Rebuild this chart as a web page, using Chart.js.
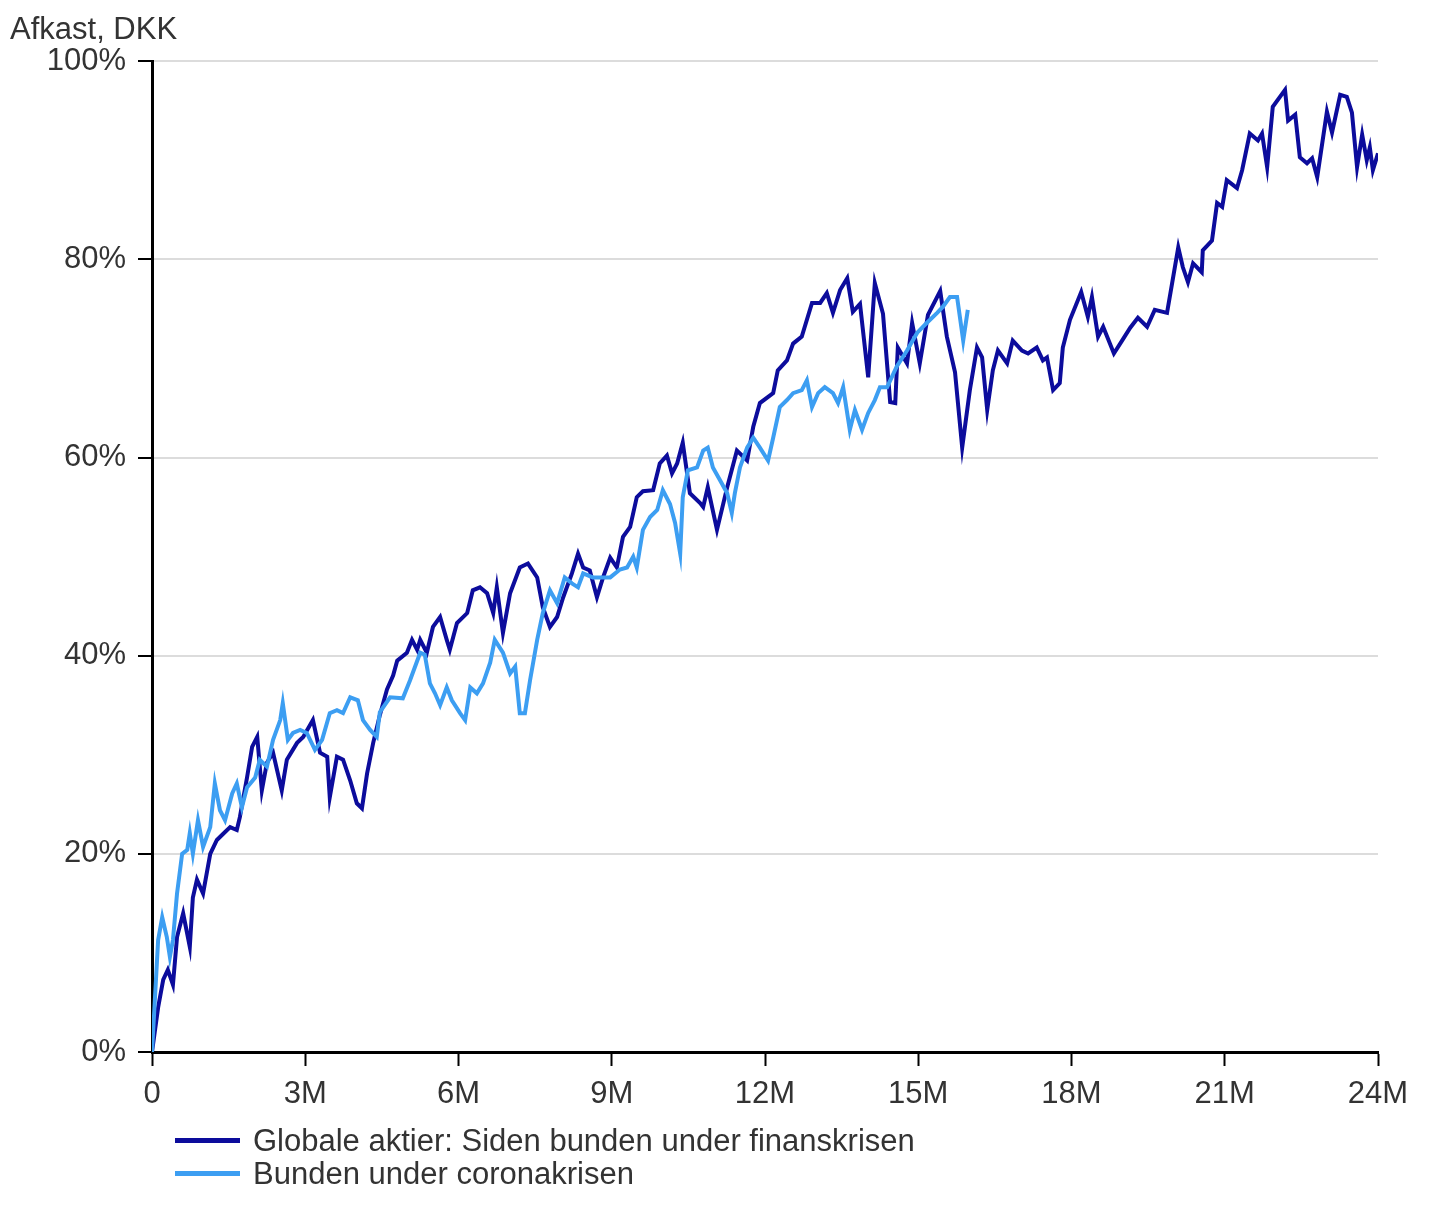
<!DOCTYPE html>
<html>
<head>
<meta charset="utf-8">
<script src="https://cdn.jsdelivr.net/npm/chart.js@4/dist/chart.umd.min.js"></script>
<style>
  html, body { margin: 0; padding: 0; background: #fff; }
  #wrap { position: relative; width: 1440px; height: 1223px; }
  #legend { position: absolute; left: 175px; top: 1124px; font-family: "Liberation Sans", Arial, sans-serif; font-size: 31px; color: #333; }
  .li { display: flex; align-items: center; height: 33px; }
  .sw { width: 65px; height: 5px; margin-right: 13px; }
</style>
</head>
<body>
<div id="wrap">
  <canvas id="c" width="1440" height="1223"></canvas>
  <div id="legend"></div>
</div>
<script>
const titleText = "Afkast, DKK";
const seriesNames = ["Globale aktier: Siden bunden under finanskrisen", "Bunden under coronakrisen"];
const seriesColors = ["#0c0c9c", "#3c9ef2"];

const monthsGlobal = [0,0.12,0.22,0.31,0.41,0.49,0.61,0.74,0.80,0.88,1.00,1.14,1.27,1.39,1.53,1.66,1.72,1.86,1.96,2.06,2.15,2.25,2.37,2.54,2.64,2.84,2.96,3.15,3.29,3.43,3.48,3.62,3.74,3.88,4.01,4.11,4.21,4.33,4.46,4.60,4.72,4.80,4.99,5.09,5.19,5.25,5.38,5.50,5.64,5.77,5.83,5.97,6.17,6.28,6.42,6.56,6.68,6.75,6.87,7.01,7.20,7.36,7.54,7.65,7.79,7.93,8.05,8.22,8.34,8.44,8.57,8.71,8.83,8.97,9.10,9.22,9.36,9.49,9.61,9.81,9.94,10.08,10.18,10.28,10.39,10.53,10.73,10.79,10.88,11.06,11.26,11.45,11.65,11.77,11.90,12.16,12.25,12.43,12.55,12.72,12.92,13.08,13.21,13.33,13.47,13.61,13.72,13.86,14.02,14.15,14.31,14.45,14.55,14.60,14.78,14.88,15.03,15.19,15.43,15.56,15.72,15.86,16.01,16.15,16.25,16.35,16.46,16.56,16.74,16.85,17.03,17.15,17.32,17.44,17.52,17.64,17.77,17.83,17.97,18.19,18.32,18.40,18.52,18.62,18.83,18.99,19.15,19.30,19.48,19.63,19.87,19.97,20.09,20.18,20.28,20.38,20.55,20.57,20.75,20.85,20.95,21.04,21.24,21.34,21.49,21.65,21.73,21.83,21.94,22.18,22.24,22.38,22.47,22.61,22.71,22.81,23.00,23.10,23.26,23.39,23.49,23.59,23.69,23.78,23.84,23.90,24.00];
const valuesGlobal = [0,4.5,7.3,8.3,6.8,11.6,14,10.6,15.6,17.4,16,20,21.4,22,22.7,22.4,23.7,27.7,30.8,31.8,26.4,29.2,30.2,26.4,29.5,31.2,31.8,33.5,30.2,29.8,25.7,29.8,29.5,27.4,25.1,24.6,28.1,31.2,34,36.6,38,39.5,40.3,41.6,40.6,41.6,40.3,42.9,43.9,41.6,40.6,43.3,44.3,46.6,46.9,46.3,44.3,46.9,42.3,46.3,48.9,49.3,47.9,44.9,42.9,43.9,45.9,48.3,50.3,48.9,48.6,45.9,47.9,49.9,48.9,52,53,56,56.6,56.7,59.4,60.2,58.4,59.4,61.5,56.4,55.4,55,57,52.7,57,60.7,59.7,63.1,65.5,66.5,68.8,69.8,71.5,72.2,75.6,75.6,76.6,74.6,76.9,78.1,74.7,75.5,68.1,77.6,74.5,65.6,65.5,71.1,69.5,73.6,69.5,74.4,76.8,72.2,68.6,61,66.8,71.1,70.1,64.8,68.8,70.8,69.5,71.8,70.8,70.5,71.1,69.8,70.1,66.8,67.5,71.1,73.9,76.7,74.2,76.2,72.2,73.2,70.5,71.8,73.1,74.1,73.2,74.9,74.6,77.6,81.2,79.2,77.7,79.6,78.7,80.9,81.9,85.7,85.3,88,87.2,89,92.7,92,92.7,89.3,95.4,97.1,94,94.6,90.3,89.7,90.2,88.3,94.9,92.8,96.6,96.4,94.8,89.3,92.6,90,91.3,89,90.7];

const monthsCorona = [0,0.12,0.20,0.29,0.35,0.41,0.49,0.59,0.69,0.74,0.80,0.90,1.00,1.14,1.23,1.33,1.43,1.57,1.66,1.76,1.86,2.02,2.11,2.25,2.37,2.51,2.56,2.66,2.76,2.90,3.03,3.19,3.33,3.48,3.62,3.74,3.88,4.03,4.13,4.27,4.40,4.46,4.66,4.91,5.05,5.25,5.34,5.44,5.54,5.64,5.77,5.87,6.03,6.13,6.23,6.36,6.48,6.62,6.71,6.87,7.01,7.11,7.20,7.30,7.40,7.54,7.65,7.79,7.93,8.08,8.22,8.34,8.44,8.63,8.77,8.97,9.16,9.30,9.42,9.49,9.61,9.75,9.89,10.00,10.14,10.24,10.34,10.39,10.49,10.67,10.79,10.88,10.98,11.12,11.26,11.35,11.41,11.51,11.65,11.77,11.90,12.06,12.16,12.29,12.43,12.55,12.72,12.82,12.92,13.04,13.17,13.33,13.43,13.53,13.66,13.76,13.90,14.02,14.15,14.25,14.39,14.58,14.78,14.98,15.17,15.37,15.48,15.62,15.76,15.88,15.97];
const valuesCorona = [0,11.3,13.6,11.6,9.6,11.3,16,20,20.4,22.1,20,23.4,20.7,22.7,27.1,24.4,23.4,26.1,27.1,24.7,26.7,27.7,29.5,28.8,31.5,33.5,35.2,31.5,32.2,32.5,32.2,30.5,31.5,34.2,34.5,34.2,35.8,35.5,33.5,32.5,31.8,34.3,35.8,35.7,37.5,40.3,40.1,37.2,36.2,35,36.8,35.5,34.2,33.5,36.8,36.2,37.2,39.3,41.6,40.3,38.2,38.9,34.2,34.2,37.5,41.6,44.3,46.6,45.3,47.9,47.3,46.9,48.3,47.9,47.9,47.9,48.7,48.9,50,48.9,52.7,54,54.7,56.7,55.3,53.4,50.3,56,58.7,59,60.7,61,59,57.7,56.4,54.4,56.4,59,61,62,61,59.7,62,65.1,65.8,66.5,66.8,67.8,65.1,66.5,67.1,66.5,65.5,67.1,62.8,64.8,62.8,64.5,65.8,67.1,67.1,69.2,70.8,72.6,73.6,74.6,75.2,76.2,76.2,71.8,74.9];

const xTickStep = 3, xMax = 24;
const yTickStep = 20, yMax = 100;

function pts(xs, ys) { return xs.map((x, i) => ({ x: x, y: ys[i] })); }

const FONT = "'Liberation Sans', Arial, sans-serif";
const TEXT = "#333";

new Chart(document.getElementById('c'), {
  type: 'line',
  data: {
    datasets: [
      { label: seriesNames[0], data: pts(monthsGlobal, valuesGlobal), borderColor: seriesColors[0], backgroundColor: seriesColors[0], borderWidth: 4, pointRadius: 0, tension: 0, order: 1 },
      { label: seriesNames[1], data: pts(monthsCorona, valuesCorona), borderColor: seriesColors[1], backgroundColor: seriesColors[1], borderWidth: 4, pointRadius: 0, tension: 0, order: 0 }
    ]
  },
  options: {
    responsive: false,
    animation: false,
    layout: { padding: { left: 10, right: 62, top: 0, bottom: 111 } },
    plugins: {
      legend: { display: false },
      tooltip: { enabled: false },
      title: {
        display: true, text: titleText, align: 'start', color: TEXT,
        font: { family: FONT, size: 31, weight: 'normal', lineHeight: 1.2 },
        padding: { top: 12, bottom: 12 }
      }
    },
    scales: {
      x: {
        type: 'linear', min: 0, max: xMax,
        afterFit: s => { s.height = 60; },
        border: { display: true, color: '#000', width: 3 },
        grid: { drawOnChartArea: false, drawTicks: true, tickLength: 14, tickColor: '#000', tickWidth: 2 },
        ticks: { stepSize: xTickStep, padding: 10, color: TEXT, font: { family: FONT, size: 31 }, maxRotation: 0,
                 callback: v => v === 0 ? '0' : v + 'M' }
      },
      y: {
        min: 0, max: yMax,
        afterFit: s => { s.width = 142; },
        border: { display: true, color: '#000', width: 3 },
        grid: { color: '#dcdcdc', lineWidth: 2, drawTicks: true, tickLength: 14, tickColor: '#000', tickWidth: 2 },
        ticks: { stepSize: yTickStep, padding: 12, color: TEXT, font: { family: FONT, size: 31 },
                 callback: v => v + '%' }
      }
    }
  },
  plugins: [{
    id: 'htmlLegend',
    afterUpdate(chart) {
      const box = document.getElementById('legend');
      box.innerHTML = '';
      chart.data.datasets.forEach(ds => {
        const row = document.createElement('div'); row.className = 'li';
        const sw = document.createElement('span'); sw.className = 'sw'; sw.style.background = ds.borderColor;
        const tx = document.createElement('span'); tx.textContent = ds.label;
        row.appendChild(sw); row.appendChild(tx); box.appendChild(row);
      });
    }
  }]
});
</script>
</body>
</html>
